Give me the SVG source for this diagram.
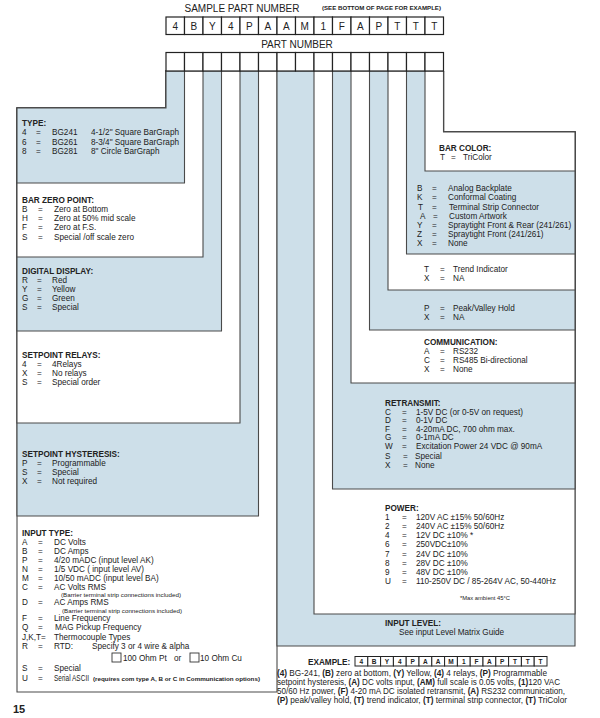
<svg xmlns="http://www.w3.org/2000/svg" width="600" height="718" viewBox="0 0 600 718">
<style>
.bl{fill:#cddfe9;stroke:#4a4a4a;stroke-width:1.1}
.wh{fill:#fff;stroke:#4a4a4a;stroke-width:1.1}
.cell{fill:#fff;stroke:#222;stroke-width:1.2}
text{font-family:"Liberation Sans",Arial,sans-serif;fill:#222}
.t{font-size:8.2px}
.h{font-size:8.2px;font-weight:bold}
.g{font-size:10px;text-anchor:middle}
.e{font-size:6.5px;font-weight:bold;text-anchor:middle}
.s{font-size:5px}
.b{font-weight:bold}
</style>
<rect width="600" height="718" fill="#fff"/>

<g id="left-boxes">
<polygon class="wh" points="166,71 277,71 277,692 17,692 17,108 166,108"/>
<polygon class="bl" points="166,71 258.5,71 258.5,516 17,516 17,108 166,108"/>
<polygon class="wh" points="166,71 240,71 240,423 17,423 17,108 166,108"/>
<polygon class="bl" points="166,71 221.5,71 221.5,331 17,331 17,108 166,108"/>
<polygon class="wh" points="166,71 203,71 203,257 17,257 17,108 166,108"/>
<polygon class="bl" points="166,71 184.5,71 184.5,183 17,183 17,108 166,108"/>
</g>
<g id="right-boxes">
<polygon class="bl" points="277,71 443.5,71 443.5,132 575,132 575,646 277,646"/>
<polygon class="wh" points="314,71 443.5,71 443.5,132 575,132 575,614 314,614"/>
<polygon class="bl" points="332.5,71 443.5,71 443.5,132 575,132 575,489 332.5,489"/>
<polygon class="wh" points="351,71 443.5,71 443.5,132 575,132 575,383 351,383"/>
<polygon class="bl" points="369.5,71 443.5,71 443.5,132 575,132 575,330 369.5,330"/>
<polygon class="wh" points="388,71 443.5,71 443.5,132 575,132 575,290 388,290"/>
<polygon class="bl" points="406.5,71 443.5,71 443.5,132 575,132 575,254 406.5,254"/>
<polygon class="wh" points="425,71 443.5,71 443.5,132 575,132 575,171 425,171"/>
</g>

<g id="header">
<text x="242" y="12" font-size="10" text-anchor="middle">SAMPLE PART NUMBER</text>
<text x="322" y="10" font-size="5.5" font-weight="bold" textLength="119" lengthAdjust="spacingAndGlyphs">(SEE BOTTOM OF PAGE FOR EXAMPLE)</text>
<text x="297" y="48" font-size="10" text-anchor="middle">PART NUMBER</text>
</g>

<g id="sample-grid">
<rect class="cell" x="166" y="17" width="18.5" height="17.5"/>
<rect class="cell" x="184.5" y="17" width="18.5" height="17.5"/>
<rect class="cell" x="203" y="17" width="18.5" height="17.5"/>
<rect class="cell" x="221.5" y="17" width="18.5" height="17.5"/>
<rect class="cell" x="240" y="17" width="18.5" height="17.5"/>
<rect class="cell" x="258.5" y="17" width="18.5" height="17.5"/>
<rect class="cell" x="277" y="17" width="18.5" height="17.5"/>
<rect class="cell" x="295.5" y="17" width="18.5" height="17.5"/>
<rect class="cell" x="314" y="17" width="18.5" height="17.5"/>
<rect class="cell" x="332.5" y="17" width="18.5" height="17.5"/>
<rect class="cell" x="351" y="17" width="18.5" height="17.5"/>
<rect class="cell" x="369.5" y="17" width="18.5" height="17.5"/>
<rect class="cell" x="388" y="17" width="18.5" height="17.5"/>
<rect class="cell" x="406.5" y="17" width="18.5" height="17.5"/>
<rect class="cell" x="425" y="17" width="18.5" height="17.5"/>
<text class="g" x="175.25" y="30">4</text>
<text class="g" x="193.75" y="30">B</text>
<text class="g" x="212.25" y="30">Y</text>
<text class="g" x="230.75" y="30">4</text>
<text class="g" x="249.25" y="30">P</text>
<text class="g" x="267.75" y="30">A</text>
<text class="g" x="286.25" y="30">A</text>
<text class="g" x="304.75" y="30">M</text>
<text class="g" x="323.25" y="30">1</text>
<text class="g" x="341.75" y="30">F</text>
<text class="g" x="360.25" y="30">A</text>
<text class="g" x="378.75" y="30">P</text>
<text class="g" x="397.25" y="30">T</text>
<text class="g" x="415.75" y="30">T</text>
<text class="g" x="434.25" y="30">T</text>
</g>

<g id="part-grid">
<rect class="cell" x="166" y="52.5" width="18.5" height="18.5"/>
<rect class="cell" x="184.5" y="52.5" width="18.5" height="18.5"/>
<rect class="cell" x="203" y="52.5" width="18.5" height="18.5"/>
<rect class="cell" x="221.5" y="52.5" width="18.5" height="18.5"/>
<rect class="cell" x="240" y="52.5" width="18.5" height="18.5"/>
<rect class="cell" x="258.5" y="52.5" width="18.5" height="18.5"/>
<rect class="cell" x="277" y="52.5" width="18.5" height="18.5"/>
<rect class="cell" x="295.5" y="52.5" width="18.5" height="18.5"/>
<rect class="cell" x="314" y="52.5" width="18.5" height="18.5"/>
<rect class="cell" x="332.5" y="52.5" width="18.5" height="18.5"/>
<rect class="cell" x="351" y="52.5" width="18.5" height="18.5"/>
<rect class="cell" x="369.5" y="52.5" width="18.5" height="18.5"/>
<rect class="cell" x="388" y="52.5" width="18.5" height="18.5"/>
<rect class="cell" x="406.5" y="52.5" width="18.5" height="18.5"/>
<rect class="cell" x="425" y="52.5" width="18.5" height="18.5"/>
</g>

<g id="type">
<text class="h" x="22" y="126">TYPE:</text>
<text class="t" x="22" y="135">4</text><text class="t" x="36" y="135">=</text><text class="t" x="52" y="135">BG241</text><text class="t" x="91" y="135">4-1/2" Square BarGraph</text>
<text class="t" x="22" y="144.5">6</text><text class="t" x="36" y="144.5">=</text><text class="t" x="52" y="144.5">BG261</text><text class="t" x="91" y="144.5">8-3/4" Square BarGraph</text>
<text class="t" x="22" y="154">8</text><text class="t" x="36" y="154">=</text><text class="t" x="52" y="154">BG281</text><text class="t" x="91" y="154">8" Circle BarGraph</text>
</g>

<g id="bar-zero-point">
<text class="h" x="22" y="203">BAR ZERO POINT:</text>
<text class="t" x="22" y="212">B</text><text class="t" x="38" y="212">=</text><text class="t" x="54" y="212">Zero at Bottom</text>
<text class="t" x="22" y="221">H</text><text class="t" x="38" y="221">=</text><text class="t" x="54" y="221">Zero at 50% mid scale</text>
<text class="t" x="22" y="230">F</text><text class="t" x="38" y="230">=</text><text class="t" x="54" y="230">Zero at F.S.</text>
<text class="t" x="22" y="240">S</text><text class="t" x="38" y="240">=</text><text class="t" x="54" y="240">Special /off scale zero</text>
</g>

<g id="digital-display">
<text class="h" x="22" y="274">DIGITAL DISPLAY:</text>
<text class="t" x="22" y="283">R</text><text class="t" x="37" y="283">=</text><text class="t" x="52" y="283">Red</text>
<text class="t" x="22" y="292">Y</text><text class="t" x="37" y="292">=</text><text class="t" x="52" y="292">Yellow</text>
<text class="t" x="22" y="301">G</text><text class="t" x="37" y="301">=</text><text class="t" x="52" y="301">Green</text>
<text class="t" x="22" y="310">S</text><text class="t" x="37" y="310">=</text><text class="t" x="52" y="310">Special</text>
</g>

<g id="setpoint-relays">
<text class="h" x="22" y="358">SETPOINT RELAYS:</text>
<text class="t" x="22" y="367">4</text><text class="t" x="37" y="367">=</text><text class="t" x="52" y="367">4Relays</text>
<text class="t" x="22" y="376">X</text><text class="t" x="37" y="376">=</text><text class="t" x="52" y="376">No relays</text>
<text class="t" x="22" y="385">S</text><text class="t" x="37" y="385">=</text><text class="t" x="52" y="385">Special order</text>
</g>

<g id="setpoint-hysteresis">
<text class="h" x="22" y="457">SETPOINT HYSTERESIS:</text>
<text class="t" x="22" y="466">P</text><text class="t" x="37" y="466">=</text><text class="t" x="52" y="466">Programmable</text>
<text class="t" x="22" y="475">S</text><text class="t" x="37" y="475">=</text><text class="t" x="52" y="475">Special</text>
<text class="t" x="22" y="484">X</text><text class="t" x="37" y="484">=</text><text class="t" x="52" y="484">Not required</text>
</g>

<g id="input-type">
<text class="h" x="22" y="536">INPUT TYPE:</text>
<text class="t" x="22" y="544.5">A</text><text class="t" x="38" y="544.5">=</text><text class="t" x="54" y="544.5">DC Volts</text>
<text class="t" x="22" y="553.5">B</text><text class="t" x="38" y="553.5">=</text><text class="t" x="54" y="553.5">DC Amps</text>
<text class="t" x="22" y="563">P</text><text class="t" x="38" y="563">=</text><text class="t" x="54" y="563">4/20 mADC (input level AK)</text>
<text class="t" x="22" y="572">N</text><text class="t" x="38" y="572">=</text><text class="t" x="54" y="572">1/5 VDC ( input level AV)</text>
<text class="t" x="22" y="581">M</text><text class="t" x="38" y="581">=</text><text class="t" x="54" y="581">10/50 mADC (input level BA)</text>
<text class="t" x="22" y="590">C</text><text class="t" x="38" y="590">=</text><text class="t" x="54" y="590">AC Volts  RMS</text>
<text class="s" x="61" y="597" textLength="120" lengthAdjust="spacingAndGlyphs">(Barrier terminal strip connections included)</text>
<text class="t" x="22" y="605">D</text><text class="t" x="38" y="605">=</text><text class="t" x="54" y="605">AC Amps  RMS</text>
<text class="s" x="62" y="613" textLength="120" lengthAdjust="spacingAndGlyphs">(Barrier terminal strip connections included)</text>
<text class="t" x="22" y="621">F</text><text class="t" x="38" y="621">=</text><text class="t" x="54" y="621">Line Frequency</text>
<text class="t" x="22" y="630">Q</text><text class="t" x="38" y="630">=</text><text class="t" x="55" y="630">MAG Pickup Frequency</text>
<text class="t" x="22" y="640">J,K,T=</text><text class="t" x="54" y="640">Thermocouple Types</text>
<text class="t" x="22" y="648.5">R</text><text class="t" x="38" y="648.5">=</text><text class="t" x="54" y="648.5">RTD:</text><text class="t" x="92" y="648.5">Specify 3 or 4 wire &amp; alpha</text>
<rect x="112" y="653" width="9" height="9" fill="#fff" stroke="#333" stroke-width="0.9"/>
<text class="t" x="123" y="661">100 Ohm Pt</text><text class="t" x="174" y="661">or</text>
<rect x="190" y="653" width="9" height="9" fill="#fff" stroke="#333" stroke-width="0.9"/>
<text class="t" x="200" y="661">10 Ohm Cu</text>
<text class="t" x="22" y="671">S</text><text class="t" x="38" y="671">=</text><text class="t" x="54" y="671">Special</text>
<text class="t" x="22" y="680.5">U</text><text class="t" x="38" y="680.5">=</text><text class="t" x="54" y="680.5" textLength="35" lengthAdjust="spacingAndGlyphs">Serial ASCII</text>
<text x="93" y="680.5" font-size="5.6" font-weight="bold" textLength="167" lengthAdjust="spacingAndGlyphs">(requires com type A, B or C in Communication options)</text>
</g>

<g id="bar-color">
<text class="h" x="439" y="151">BAR COLOR:</text>
<text class="t" x="440" y="160">T</text><text class="t" x="451" y="160">=</text><text class="t" x="463" y="160">TriColor</text>
</g>

<g id="options">
<text class="t" x="417" y="191">B</text><text class="t" x="432" y="191">=</text><text class="t" x="448" y="191">Analog Backplate</text>
<text class="t" x="417" y="200">K</text><text class="t" x="432" y="200">=</text><text class="t" x="448" y="200">Conformal Coating</text>
<text class="t" x="418" y="209.5">T</text><text class="t" x="432" y="209.5">=</text><text class="t" x="449" y="209.5">Terminal Strip Connector</text>
<text class="t" x="420" y="218.5">A</text><text class="t" x="433" y="218.5">=</text><text class="t" x="449" y="218.5">Custom Artwork</text>
<text class="t" x="417" y="228">Y</text><text class="t" x="432" y="228">=</text><text class="t" x="448" y="228">Spraytight Front &amp; Rear (241/261)</text>
<text class="t" x="417" y="237">Z</text><text class="t" x="432" y="237">=</text><text class="t" x="448" y="237">Spraytight Front (241/261)</text>
<text class="t" x="417" y="246">X</text><text class="t" x="432" y="246">=</text><text class="t" x="448" y="246">None</text>
</g>

<g id="trend">
<text class="t" x="424" y="272">T</text><text class="t" x="440" y="272">=</text><text class="t" x="453" y="272">Trend Indicator</text>
<text class="t" x="424" y="281">X</text><text class="t" x="440" y="281">=</text><text class="t" x="453" y="281">NA</text>
</g>

<g id="peak-valley">
<text class="t" x="424" y="311">P</text><text class="t" x="440" y="311">=</text><text class="t" x="453" y="311">Peak/Valley Hold</text>
<text class="t" x="424" y="320">X</text><text class="t" x="440" y="320">=</text><text class="t" x="453" y="320">NA</text>
</g>

<g id="communication">
<text class="h" x="424" y="345">COMMUNICATION:</text>
<text class="t" x="424" y="353.5">A</text><text class="t" x="440" y="353.5">=</text><text class="t" x="453" y="353.5">RS232</text>
<text class="t" x="424" y="362.5">C</text><text class="t" x="440" y="362.5">=</text><text class="t" x="453" y="362.5">RS485 Bi-directional</text>
<text class="t" x="424" y="371.5">X</text><text class="t" x="440" y="371.5">=</text><text class="t" x="453" y="371.5">None</text>
</g>

<g id="retransmit">
<text class="h" x="385" y="406">RETRANSMIT:</text>
<text class="t" x="385" y="414.5">C</text><text class="t" x="402" y="414.5">=</text><text class="t" x="416" y="414.5">1-5V DC (or 0-5V on request)</text>
<text class="t" x="385" y="423">D</text><text class="t" x="402" y="423">=</text><text class="t" x="416" y="423">0-1V DC</text>
<text class="t" x="385" y="431.5">F</text><text class="t" x="402" y="431.5">=</text><text class="t" x="416" y="431.5">4-20mA DC, 700 ohm max.</text>
<text class="t" x="385" y="440">G</text><text class="t" x="402" y="440">=</text><text class="t" x="416" y="440">0-1mA DC</text>
<text class="t" x="385" y="449">W</text><text class="t" x="402" y="449">=</text><text class="t" x="416" y="449">Excitation Power 24 VDC @ 90mA</text>
<text class="t" x="385" y="459">S</text><text class="t" x="403" y="459">=</text><text class="t" x="415" y="459">Special</text>
<text class="t" x="385" y="468">X</text><text class="t" x="403" y="468">=</text><text class="t" x="415" y="468">None</text>
</g>

<g id="power">
<text class="h" x="385" y="511">POWER:</text>
<text class="t" x="385" y="520">1</text><text class="t" x="402" y="520">=</text><text class="t" x="416" y="520">120V AC ±15% 50/60Hz</text>
<text class="t" x="385" y="529">2</text><text class="t" x="402" y="529">=</text><text class="t" x="416" y="529">240V AC ±15% 50/60Hz</text>
<text class="t" x="385" y="538">4</text><text class="t" x="402" y="538">=</text><text class="t" x="416" y="538">12V DC ±10% *</text>
<text class="t" x="385" y="547">6</text><text class="t" x="402" y="547">=</text><text class="t" x="416" y="547">250VDC±10%</text>
<text class="t" x="385" y="556.5">7</text><text class="t" x="402" y="556.5">=</text><text class="t" x="416" y="556.5">24V DC ±10%</text>
<text class="t" x="385" y="565.5">8</text><text class="t" x="402" y="565.5">=</text><text class="t" x="416" y="565.5">28V DC ±10%</text>
<text class="t" x="385" y="574.5">9</text><text class="t" x="402" y="574.5">=</text><text class="t" x="416" y="574.5">48V DC ±10%</text>
<text class="t" x="385" y="583.5">U</text><text class="t" x="402" y="583.5">=</text><text class="t" x="416" y="583.5">110-250V DC / 85-264V AC, 50-440Hz</text>
<text x="460" y="600" font-size="5.8">*Max ambient 45°C</text>
</g>

<g id="input-level">
<text class="h" x="385" y="626">INPUT LEVEL:</text>
<text class="t" x="399" y="635">See input Level Matrix Guide</text>
</g>

<g id="example">
<text class="h" x="308" y="665">EXAMPLE:</text>
<g stroke="#222" stroke-width="1" fill="#fff">
<rect x="355" y="656.5" width="12.8" height="9.5"/>
<rect x="367.8" y="656.5" width="12.8" height="9.5"/>
<rect x="380.6" y="656.5" width="12.8" height="9.5"/>
<rect x="393.4" y="656.5" width="12.8" height="9.5"/>
<rect x="406.2" y="656.5" width="12.8" height="9.5"/>
<rect x="419" y="656.5" width="12.8" height="9.5"/>
<rect x="431.8" y="656.5" width="12.8" height="9.5"/>
<rect x="444.6" y="656.5" width="12.8" height="9.5"/>
<rect x="457.4" y="656.5" width="12.8" height="9.5"/>
<rect x="470.2" y="656.5" width="12.8" height="9.5"/>
<rect x="483" y="656.5" width="12.8" height="9.5"/>
<rect x="495.8" y="656.5" width="12.8" height="9.5"/>
<rect x="508.6" y="656.5" width="12.8" height="9.5"/>
<rect x="521.4" y="656.5" width="12.8" height="9.5"/>
<rect x="534.2" y="656.5" width="12.8" height="9.5"/>
</g>
<text class="e" x="361.4" y="664">4</text>
<text class="e" x="374.2" y="664">B</text>
<text class="e" x="387" y="664">Y</text>
<text class="e" x="399.8" y="664">4</text>
<text class="e" x="412.6" y="664">P</text>
<text class="e" x="425.4" y="664">A</text>
<text class="e" x="438.2" y="664">A</text>
<text class="e" x="451" y="664">M</text>
<text class="e" x="463.8" y="664">1</text>
<text class="e" x="476.6" y="664">F</text>
<text class="e" x="489.4" y="664">A</text>
<text class="e" x="502.2" y="664">P</text>
<text class="e" x="515" y="664">T</text>
<text class="e" x="527.8" y="664">T</text>
<text class="e" x="540.6" y="664">T</text>
<text class="t" x="277" y="676" textLength="270" lengthAdjust="spacingAndGlyphs"><tspan class="b">(4)</tspan> BG-241, <tspan class="b">(B)</tspan> zero at bottom, <tspan class="b">(Y)</tspan> Yellow, <tspan class="b">(4)</tspan> 4 relays, <tspan class="b">(P)</tspan> Programmable</text>
<text class="t" x="277" y="685" textLength="283" lengthAdjust="spacingAndGlyphs">setpoint hysteresis, <tspan class="b">(A)</tspan> DC volts input, <tspan class="b">(AM)</tspan> full scale is 0.05 volts, <tspan class="b">(1)</tspan>120 VAC</text>
<text class="t" x="277" y="694" textLength="288" lengthAdjust="spacingAndGlyphs">50/60 Hz power, <tspan class="b">(F)</tspan> 4-20 mA DC isolated retransmit, <tspan class="b">(A)</tspan> RS232 communication,</text>
<text class="t" x="277" y="703" textLength="290" lengthAdjust="spacingAndGlyphs"><tspan class="b">(P)</tspan> peak/valley hold, <tspan class="b">(T)</tspan> trend indicator, <tspan class="b">(T)</tspan> terminal strip connector, <tspan class="b">(T)</tspan> TriColor</text>
</g>

<g id="page-number">
<text x="13" y="713" font-size="11" font-weight="bold">15</text>
</g>
</svg>
